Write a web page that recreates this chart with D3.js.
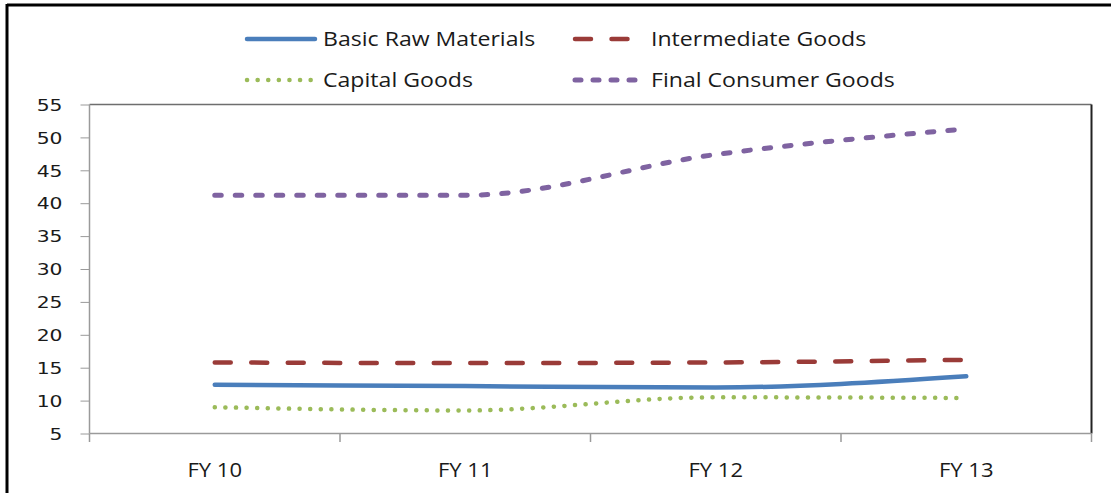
<!DOCTYPE html>
<html>
<head>
<meta charset="utf-8">
<script src="https://cdn.jsdelivr.net/npm/d3@7"></script>
<style>
  body { margin: 0; background: #fff; }
  svg { display: block; }
  .axis path, .axis line { stroke: #9a9a9a; }
  .ylab text { font-family: "DejaVu Sans", Verdana, sans-serif; font-size: 16px; fill: #1a1a1a; }
  .xlab text { font-family: "Open Sans", sans-serif; font-size: 20px; fill: #1a1a1a; }
  .legend text { font-family: "Open Sans", sans-serif; font-size: 20px; fill: #1a1a1a; }
</style>
</head>
<body>
<svg id="svg1" width="1111" height="493"></svg>
<script>
// data
var years = ["FY 10", "FY 11", "FY 12", "FY 13"];
var yTicks = [5, 10, 15, 20, 25, 30, 35, 40, 45, 50, 55];
var basicRaw = [12.4, 12.2, 12.0, 13.7];
var intermediate = [15.8, 15.7, 15.8, 16.2];
var capital = [9.0, 8.5, 10.5, 10.4];
var finalConsumer = [41.2, 41.2, 47.4, 51.3];
var seriesNames = ["Basic Raw Materials", "Intermediate Goods", "Capital Goods", "Final Consumer Goods"];

function init() {
    var svg = d3.select("#svg1");

    var x = d3.scaleBand().domain(years).range([89.5, 1091.5]);
    var y = d3.scaleLinear().domain([5, 55]).range([433.5, 104.5]);

    // outer frame (top + left only visible)
    svg.append("line").attr("x1", 7).attr("y1", 5).attr("x2", 1111).attr("y2", 5)
        .attr("stroke", "#000").attr("stroke-width", 3);
    svg.append("line").attr("x1", 7).attr("y1", 4).attr("x2", 7).attr("y2", 493)
        .attr("stroke", "#000").attr("stroke-width", 3);

    // plot area border
    svg.append("line").attr("x1", 89.5).attr("y1", 104.5).attr("x2", 1091.5).attr("y2", 104.5)
        .attr("stroke", "#6e6e6e").attr("stroke-width", 1.5);
    svg.append("line").attr("x1", 1091.5).attr("y1", 104.5).attr("x2", 1091.5).attr("y2", 433.5)
        .attr("stroke", "#222").attr("stroke-width", 2);

    // y axis
    var yAxis = svg.append("g")
        .attr("class", "axis ylab")
        .attr("transform", "translate(89.5,0)")
        .call(d3.axisLeft(y).tickValues(yTicks).tickSize(9).tickFormat(d3.format("d")));
    yAxis.selectAll(".tick text")
        .attr("x", 0).attr("dy", "0.36em")
        .attr("transform", "translate(-27,0) scale(1.27,1)");
    yAxis.select(".domain").attr("d", "M0," + y(5) + "V" + y(55)).attr("stroke-width", 1.5);

    // x axis
    var xAxis = svg.append("g")
        .attr("class", "axis xlab")
        .attr("transform", "translate(0,433.5)")
        .call(d3.axisBottom(x).tickSize(0));
    xAxis.select(".domain").attr("d", "M89.5,0H1091.5").attr("stroke-width", 1.5);
    xAxis.selectAll(".tick text")
        .attr("y", 0).attr("dy", 0)
        .attr("transform", "translate(0,43.5) scale(1.1,1)");

    var bounds = years.map(function(d) { return x(d); }).concat([x.range()[1]]);
    svg.append("g").selectAll("line").data(bounds).enter().append("line")
        .attr("x1", function(d) { return d; }).attr("x2", function(d) { return d; })
        .attr("y1", 433.5).attr("y2", 442)
        .attr("stroke", "#9a9a9a").attr("stroke-width", 1.5);

    var styles = [
        { values: basicRaw, color: "#4a7ebb", dash: null, width: 4.5 },
        { values: intermediate, color: "#9a3b38", dash: "16 20.5", width: 4.5 },
        { values: capital, color: "#9bbb59", dash: "0.1 10.5", width: 4.5 },
        { values: finalConsumer, color: "#7f63a1", dash: "6.5 14", width: 5 }
    ];

    var line = d3.line()
        .x(function(d, i) { return x(years[i]) + x.bandwidth() / 2; })
        .y(function(d) { return y(d); })
        .curve(d3.curveMonotoneX);

    styles.forEach(function(s) {
        svg.append("path")
            .attr("d", line(s.values))
            .attr("fill", "none")
            .attr("stroke", s.color)
            .attr("stroke-width", s.width)
            .attr("stroke-linecap", "round")
            .attr("stroke-dasharray", s.dash);
    });

    // legend
    var legendPos = [[247, 39], [575, 39], [247, 80], [575, 80]];
    var legend = svg.append("g").attr("class", "legend");
    var items = legend.selectAll("g").data(seriesNames).enter().append("g")
        .attr("transform", function(d, i) { return "translate(" + legendPos[i][0] + "," + legendPos[i][1] + ")"; });
    items.append("line")
        .attr("x1", 0).attr("x2", 68).attr("y1", 0).attr("y2", 0)
        .attr("stroke", function(d, i) { return styles[i].color; })
        .attr("stroke-width", function(d, i) { return styles[i].width; })
        .attr("stroke-linecap", "round")
        .attr("stroke-dasharray", function(d, i) { return i == 3 ? "6 12" : styles[i].dash; });
    items.append("text")
        .attr("transform", "translate(76,7) scale(1.155,1)")
        .text(function(d) { return d; });
}
init();
</script>
</body>
</html>
